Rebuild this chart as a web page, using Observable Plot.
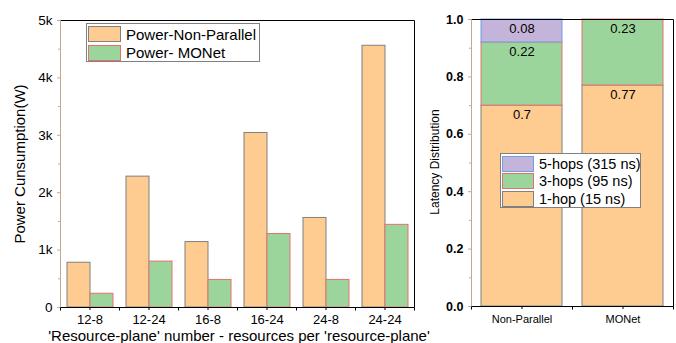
<!DOCTYPE html>
<html><head><meta charset="utf-8">
<script src="https://cdn.jsdelivr.net/npm/d3@7"></script>
<script src="https://cdn.jsdelivr.net/npm/@observablehq/plot@0.6"></script>
<style>
body{margin:0;background:#fff;}
#wrap{position:relative;width:676px;height:343px;overflow:hidden;font-family:"Liberation Sans",Arial,sans-serif;color:#000;background:#fff;}
.plot{position:absolute;top:0;}
.legend{position:absolute;border:1px solid #808080;background:#fff;box-sizing:border-box;padding:1px 0 0 1px;}
.row{display:flex;align-items:center;white-space:nowrap;}
.sw{box-sizing:border-box;border:1px solid;flex:none;}
.vtitle{position:absolute;transform:translate(-50%,-50%) rotate(-90deg);white-space:nowrap;line-height:1;}
.htitle{position:absolute;transform:translate(-50%,0);white-space:nowrap;line-height:1;}
</style></head><body><div id="wrap"></div>
<script>
// ---- data: left chart ----
const configs = ["12-8", "12-24", "16-8", "16-24", "24-8", "24-24"];
const powerSeries = ["Power-Non-Parallel", "Power- MONet"];
const powerNonParallel = [780, 2280, 1140, 3040, 1560, 4560];
const powerMONet = [240, 800, 480, 1280, 480, 1440];
const powerTicks = [0, 1000, 2000, 3000, 4000, 5000];
const powerTickLabels = ["0", "1k", "2k", "3k", "4k", "5k"];
const powerMinorTicks = [500, 1500, 2500, 3500, 4500];

// ---- data: right chart ----
const archs = ["Non-Parallel", "MONet"];
const hopSeries = ["1-hop (15 ns)", "3-hops (95 ns)", "5-hops (315 ns)"];
const hop1 = [0.7, 0.77];
const hop3 = [0.22, 0.23];
const hop5 = [0.08, 0];
const latTicks = [0, 0.2, 0.4, 0.6, 0.8, 1.0];
const latMinorTicks = [0.1, 0.3, 0.5, 0.7, 0.9];

// ---- styles ----
const ORANGE = "#fecb91", GREEN = "#9bd59b", PURPLE = "#c4b4d9";
const GRAY = "#808080", RED = "#e8706c", BLUE = "#6b9fe6", TAN = "#c9a98e";
const FONT = '"Liberation Sans", Arial, sans-serif';
const hopStroke = [GRAY, RED, BLUE];

const powerData = configs.flatMap((c, i) => [
  {cfg: c, s: powerSeries[0], v: powerNonParallel[i]},
  {cfg: c, s: powerSeries[1], v: powerMONet[i]}
]);
const latData = archs.flatMap((a, i) => [
  {a, s: hopSeries[0], v: hop1[i]},
  {a, s: hopSeries[1], v: hop3[i]},
  {a, s: hopSeries[2], v: hop5[i]}
]).filter(d => d.v > 0);

function decor(n) {
  return Plot.frame({facet: "super", render: (I, scales, values, d) => {
    const x0 = d.marginLeft + 0.5, x1 = d.width - d.marginRight + 0.5;
    const y0 = d.marginTop + 0.5, y1 = d.height - d.marginBottom + 0.5;
    const g = d3.create("svg:g").attr("fill", "none");
    const line = (a, b, c, e, col) => g.append("line").attr("x1", a).attr("y1", b).attr("x2", c).attr("y2", e).attr("stroke", col);
    line(x0, y0, x1, y0, "black");
    line(x1, y0, x1, y1, "black");
    line(x0, y1, x1, y1, "black");
    line(x0, y0, x0, y1, TAN);
    const w = x1 - x0;
    for (let k = 0; k <= n; k++) line(x0 + k * w / n, y1, x0 + k * w / n, y1 + 3, "black");
    return g.node();
  }});
}

const wrap = document.getElementById("wrap");

// ---- left chart ----
const left = Plot.plot({
  width: 430, height: 343,
  marginLeft: 58, marginRight: 15, marginTop: 20, marginBottom: 36,
  style: {fontFamily: FONT, fontSize: "13px", background: "transparent", color: "black"},
  fx: {domain: configs, padding: 0, label: null},
  x: {domain: powerSeries, paddingInner: 0, paddingOuter: 0.25, axis: null},
  y: {domain: [0, 5000], axis: null},
  color: {domain: powerSeries, range: [ORANGE, GREEN]},
  marks: [
    Plot.barY(powerData.filter(d => d.s === powerSeries[0]), {fx: "cfg", x: "s", y: "v", fill: "s", stroke: GRAY, inset: 0}),
    Plot.barY(powerData.filter(d => d.s === powerSeries[1]), {fx: "cfg", x: "s", y: "v", fill: "s", stroke: RED, inset: 0}),
    Plot.axisY({ticks: powerMinorTicks, tickSize: 2, tickFormat: () => "", stroke: TAN, label: null}),
    Plot.axisY({ticks: powerTicks, tickFormat: (d, i) => powerTickLabels[i], tickSize: 3, tickPadding: 5, stroke: TAN, fill: "black", fontSize: 13.5, label: null}),
    Plot.axisFx({anchor: "bottom", tickSize: 3, tickPadding: 4, fontSize: 13, stroke: "black", fill: "black", label: null}),
    decor(configs.length)
  ]
});
left.classList.add("plot");
left.style.left = "0px";
wrap.appendChild(left);

// ---- right chart ----
const right = Plot.plot({
  width: 256, height: 343,
  marginLeft: 51, marginRight: 3, marginTop: 19, marginBottom: 37,
  style: {fontFamily: FONT, fontSize: "12px", background: "transparent", color: "black"},
  x: {domain: archs, paddingInner: 0.2, paddingOuter: 0.1, axis: null},
  y: {domain: [0, 1], axis: null},
  color: {domain: hopSeries, range: [ORANGE, GREEN, PURPLE]},
  marks: [
    ...hopSeries.map((s, k) => Plot.barY(latData, Plot.filter(d => d.s === s, Plot.stackY({x: "a", y: "v", fill: "s", stroke: hopStroke[k], inset: 0})))),
    Plot.text(latData, Plot.stackY2({x: "a", y: "v", text: d => String(d.v), dy: 9, fontSize: 13, fill: "black"})),
    Plot.axisY({ticks: latMinorTicks, tickSize: 2, tickFormat: () => "", stroke: TAN, label: null}),
    Plot.axisY({ticks: latTicks, tickFormat: d => d.toFixed(1), tickSize: 3, tickPadding: 5, stroke: TAN, fill: "black", fontSize: 12.5, fontWeight: "bold", label: null}),
    Plot.axisX({anchor: "bottom", tickSize: 3, tickPadding: 6, fontSize: 11, stroke: "black", fill: "black", label: null}),
    decor(archs.length)
  ]
});
right.classList.add("plot");
right.style.left = "420px";
wrap.appendChild(right);

// ---- titles ----
function addDiv(cls, text, css) {
  const el = document.createElement("div");
  el.className = cls; el.textContent = text;
  Object.assign(el.style, css);
  wrap.appendChild(el);
  return el;
}
addDiv("vtitle", "Power Cunsumption(W)", {left: "19px", top: "164px", fontSize: "15px"});
addDiv("htitle", "'Resource-plane' number - resources per 'resource-plane'", {left: "239px", top: "328px", fontSize: "15px"});
addDiv("vtitle", "Latency Distribution", {left: "435px", top: "162px", fontSize: "12px"});

// ---- legends ----
function legend(items, css, sw, rowH, fs) {
  const box = document.createElement("div");
  box.className = "legend";
  Object.assign(box.style, css);
  for (const it of items) {
    const r = document.createElement("div");
    r.className = "row"; r.style.height = rowH + "px";
    const s = document.createElement("div");
    s.className = "sw";
    Object.assign(s.style, {width: sw[0] + "px", height: sw[1] + "px", background: it.fill, borderColor: it.stroke});
    const t = document.createElement("span");
    t.textContent = it.label;
    Object.assign(t.style, {marginLeft: "5px", fontSize: fs + "px"});
    r.appendChild(s); r.appendChild(t);
    box.appendChild(r);
  }
  wrap.appendChild(box);
}
legend([
  {label: powerSeries[0], fill: ORANGE, stroke: GRAY},
  {label: powerSeries[1], fill: GREEN, stroke: RED}
], {left: "86px", top: "23px", width: "174px", height: "39px"}, [33, 16], 18.5, 15);
legend([
  {label: hopSeries[2], fill: PURPLE, stroke: BLUE},
  {label: hopSeries[1], fill: GREEN, stroke: RED},
  {label: hopSeries[0], fill: ORANGE, stroke: GRAY}
], {left: "500px", top: "153px", width: "141px", height: "55px"}, [32, 16], 17.5, 14.5);
</script></body></html>
